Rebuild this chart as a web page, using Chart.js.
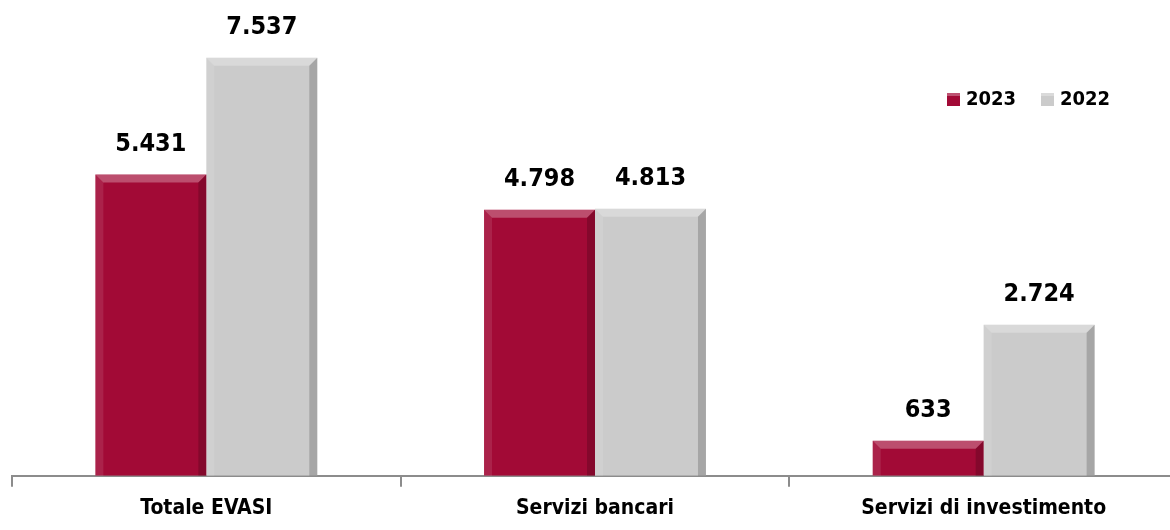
<!DOCTYPE html>
<html>
<head>
<meta charset="utf-8">
<script src="https://cdn.jsdelivr.net/npm/chart.js@4.4.1/dist/chart.umd.min.js"></script>
<style>
  html, body { margin: 0; padding: 0; background: #fff; overflow: hidden; }
  #wrap { width: 1180px; height: 530px; position: relative; }
</style>
</head>
<body>
<div id="wrap"><canvas id="reclami"></canvas></div>
<script>
// categorie e valori
const categorie = ['Totale EVASI', 'Servizi bancari', 'Servizi di investimento'];
const anni = ['2023', '2022'];
const valori2023 = [5431, 4798, 633];
const valori2022 = [7537, 4813, 2724];

const FONT = '"Liberation Sans Narrow", "DejaVu Sans Condensed", "Open Sans", sans-serif';
const coloriBarre = ['#a20a36', '#cbcbcb'];

// formato italiano: 7.537
function formatta(v) {
    return v.toString().replace(/\B(?=(\d{3})+(?!\d))/g, '.');
}

// effetto "smussato" sulle barre, come in Excel
const bevelPlugin = {
    id: 'bevel',
    afterDatasetsDraw(chart) {
        const ctx = chart.ctx;
        chart.data.datasets.forEach((ds, i) => {
            const meta = chart.getDatasetMeta(i);
            meta.data.forEach(bar => {
                const l = bar.x - bar.width / 2, r = bar.x + bar.width / 2;
                const t = bar.y, b = bar.base;
                const d = Math.min(8, (b - t) / 2);
                ctx.save();
                // alto chiaro
                ctx.fillStyle = 'rgba(255,255,255,0.28)';
                ctx.beginPath();
                ctx.moveTo(l, t); ctx.lineTo(r, t); ctx.lineTo(r - d, t + d); ctx.lineTo(l + d, t + d);
                ctx.closePath(); ctx.fill();
                // sinistra leggermente chiara
                ctx.fillStyle = 'rgba(255,255,255,0.10)';
                ctx.beginPath();
                ctx.moveTo(l, t); ctx.lineTo(l + d, t + d); ctx.lineTo(l + d, b); ctx.lineTo(l, b);
                ctx.closePath(); ctx.fill();
                // destra scura
                ctx.fillStyle = 'rgba(0,0,0,0.18)';
                ctx.beginPath();
                ctx.moveTo(r, t); ctx.lineTo(r - d, t + d); ctx.lineTo(r - d, b); ctx.lineTo(r, b);
                ctx.closePath(); ctx.fill();
                ctx.restore();
            });
        });
    }
};

// etichette sopra le barre
const etichettePlugin = {
    id: 'etichette',
    afterDatasetsDraw(chart) {
        const ctx = chart.ctx;
        ctx.save();
        ctx.font = 'bold 25px ' + FONT;
        ctx.fillStyle = '#000';
        ctx.textAlign = 'center';
        ctx.textBaseline = 'middle';
        chart.data.datasets.forEach((ds, i) => {
            chart.getDatasetMeta(i).data.forEach((bar, j) => {
                ctx.fillText(formatta(ds.data[j]), bar.x, bar.y - 30);
            });
        });
        ctx.restore();
    }
};

// legenda in alto a destra
const legendaPlugin = {
    id: 'legenda',
    afterDraw(chart) {
        const ctx = chart.ctx;
        ctx.save();
        ctx.font = 'bold 20px ' + FONT;
        ctx.textBaseline = 'middle';
        let x = 947;
        const y = 100;
        chart.data.datasets.forEach(ds => {
            ctx.fillStyle = ds.backgroundColor;
            ctx.fillRect(x, y - 7, 13, 13);
            ctx.fillStyle = 'rgba(255,255,255,0.3)';
            ctx.fillRect(x, y - 7, 13, 3);
            ctx.fillStyle = '#000';
            ctx.fillText(ds.label, x + 19, y);
            x += 94;
        });
        ctx.restore();
    }
};

const ctx = document.getElementById('reclami').getContext('2d');
new Chart(ctx, {
    type: 'bar',
    data: {
        labels: categorie,
        datasets: [
            { label: anni[0], data: valori2023, backgroundColor: coloriBarre[0] },
            { label: anni[1], data: valori2022, backgroundColor: coloriBarre[1] }
        ]
    },
    options: {
        responsive: true,
        maintainAspectRatio: false,
        animation: false,
        layout: { padding: { left: 12, right: 2, top: 32, bottom: 0 } },
        datasets: {
            bar: { categoryPercentage: 0.571, barPercentage: 1.0 }
        },
        scales: {
            x: {
                grid: {
                    offset: true,
                    drawOnChartArea: false,
                    drawTicks: true,
                    tickLength: 11,
                    color: '#8c8c8c',
                    lineWidth: 2
                },
                border: { display: true, color: '#8c8c8c', width: 2 },
                ticks: {
                    color: '#000',
                    padding: 9,
                    font: { family: FONT, size: 21, weight: 'bold' }
                }
            },
            y: {
                display: false,
                min: 0,
                max: 8000
            }
        },
        plugins: {
            legend: { display: false },
            tooltip: { enabled: false }
        }
    },
    plugins: [bevelPlugin, etichettePlugin, legendaPlugin]
});
</script>
</body>
</html>
